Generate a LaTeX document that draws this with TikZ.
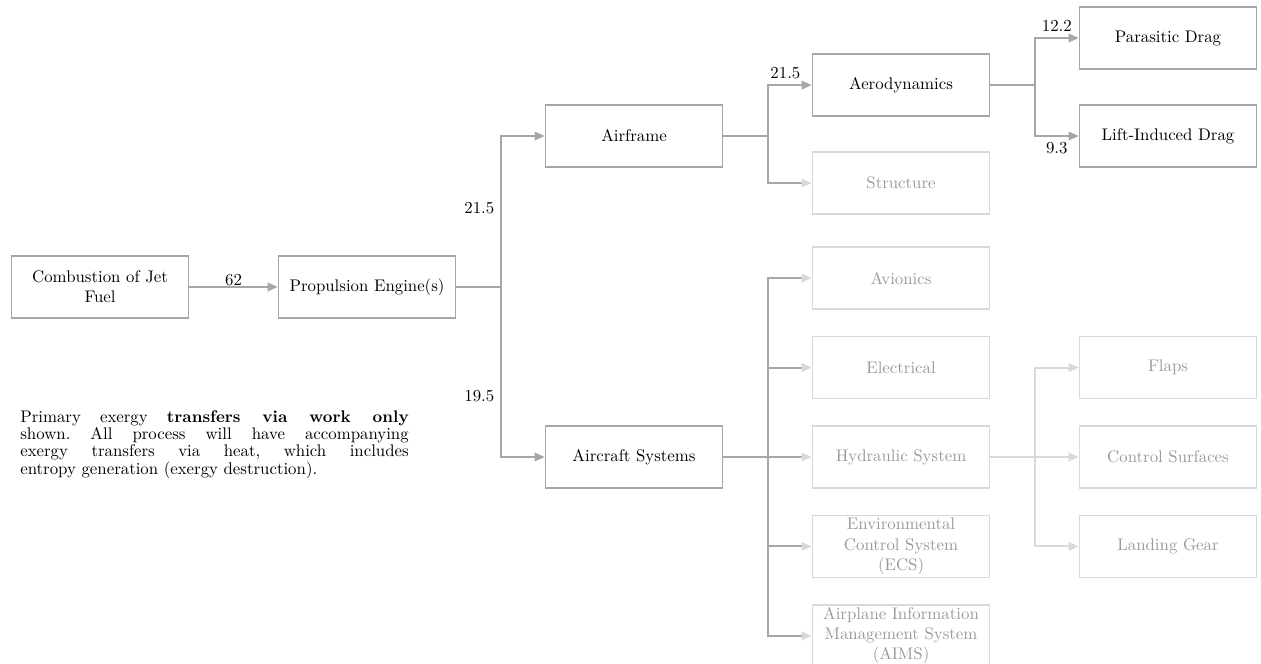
\documentclass[tikz,border=0pt]{standalone}
\usepackage{tikz}
\usetikzlibrary{positioning, arrows.meta}

\definecolor{linegray}{gray}{0.65}
\definecolor{faintgray}{gray}{0.85}
\definecolor{fainttext}{gray}{0.6}

\begin{document}
\begin{tikzpicture}[%
        node distance=53.2pt and 158.8pt, % Global setup of box spacing
        font=\normalsize,
    ]
    \tikzset{
        base/.style={draw, on grid, align=flush center, line width=0.9pt,
                     text width=95pt, inner xsep=5.15pt, inner ysep=1pt,
                     minimum height=36.9pt},
        proc/.style={base, draw=linegray},
        idle/.style={base, draw=faintgray, text=fainttext},
        % junc node style is used for the corners of the connecting lines
        junc/.style={coordinate},
        % -------------------------------------------------
        % Connector line styles
        tip/.style={-{Triangle[length=6pt, width=5pt]}},
        conn/.style={draw=linegray, line width=1.2pt, tip},
        dim/.style={draw=linegray, line width=1.2pt,
                    -{Triangle[length=6pt, width=5pt, color=faintgray]}},
        faint/.style={draw=faintgray, line width=1.2pt, tip},
        lbl/.style={font=\normalsize},
        note/.style={text width=231pt, align=justify, inner sep=0pt,
                     font={\fontsize{10}{10.3}\selectfont\frenchspacing}}
    }
    \useasboundingbox (0,0) rectangle (750pt,-394.4pt);
    %%% Blocks
    \node [proc] (comb) at (59.5pt,-170.7pt) {Combustion of Jet Fuel};
    \node [proc, right=of comb] (prop) {Propulsion Engine(s)};
    \node [proc, above right=89.8pt and 158.8pt of prop] (airframe) {Airframe};
    \node [proc, below right=101.1pt and 158.8pt of prop] (systems) {Aircraft Systems};
    % -- airframe
    \node [proc, above right=30.3pt and 158.8pt of airframe] (aero) {Aerodynamics};
    \node [idle, below right=28pt and 158.8pt of airframe] (structure) {Structure};
    \node [proc, above right=28pt and 158.8pt of aero] (parasitic) {Parasitic Drag};
    \node [proc, below right=30.3pt and 158.8pt of aero] (lift) {Lift-Induced Drag};
    % -- systems
    \node [idle, right=of systems] (hydraulic) {Hydraulic System};
    \node [idle, above=of hydraulic] (electrical) {Electrical};
    \node [idle, above=of electrical] (avionics) {Avionics};
    \node [idle, below=of hydraulic] (ecs) {Environmental Control System (ECS)};
    \node [idle, below=of ecs] (aims) {Airplane Information Management System (AIMS)};
    \node [idle, right=of hydraulic] (surfaces) {Control Surfaces};
    \node [idle, above=of surfaces] (flaps) {Flaps};
    \node [idle, below=of surfaces] (gear) {Landing Gear};
    % -- note
    \node [note, anchor=north west] (remark) at (11.9pt,-244pt) {Primary exergy
        \textbf{transfers via work only}\linebreak shown. All process will have
        accompanying\linebreak exergy transfers via heat, which includes\linebreak
        entropy generation (exergy destruction).};
    %%% Nodes
    \node [junc, right=26.5pt of prop.east] (jprop) {};
    \node [junc, right=26.5pt of airframe.east] (jair) {};
    \node [junc, right=26.5pt of aero.east] (jaero) {};
    \node [junc, right=26.5pt of systems.east] (jsys) {};
    \node [junc, right=26.5pt of hydraulic.east] (jhyd) {};
    %%% Connectors
    \draw [conn] (comb) -- node [above, inner sep=0pt] {62} (prop);
    \draw [draw=linegray, line width=1.2pt] (prop.east) -- (jprop);
    \draw [conn] (jprop) |- node [pos=.26, left, lbl] {21.5} (airframe);
    \draw [conn] (jprop) |- node [pos=.32, left, lbl] {19.5} (systems);
    % -- airframe
    \draw [draw=linegray, line width=1.2pt] (airframe.east) -- (jair);
    \draw [conn] (jair) |- node [pos=.7, above, lbl] {21.5} (aero);
    \draw [dim] (jair) |- (structure);
    \draw [draw=linegray, line width=1.2pt] (aero.east) -- (jaero);
    \draw [conn] (jaero) |- node [pos=.75, above, lbl] {12.2} (parasitic);
    \draw [conn] (jaero) |- node [pos=.75, below, lbl] {9.3} (lift);
    % -- systems
    \draw [draw=linegray, line width=1.2pt] (systems.east) -- (jsys);
    \foreach \n in {avionics, electrical, hydraulic, ecs, aims}
        \draw [dim] (jsys) |- (\n);
    \draw [draw=faintgray, line width=1.2pt] (hydraulic.east) -- (jhyd);
    \foreach \n in {flaps, surfaces, gear}
        \draw [faint] (jhyd) |- (\n);
\end{tikzpicture}
\end{document}
